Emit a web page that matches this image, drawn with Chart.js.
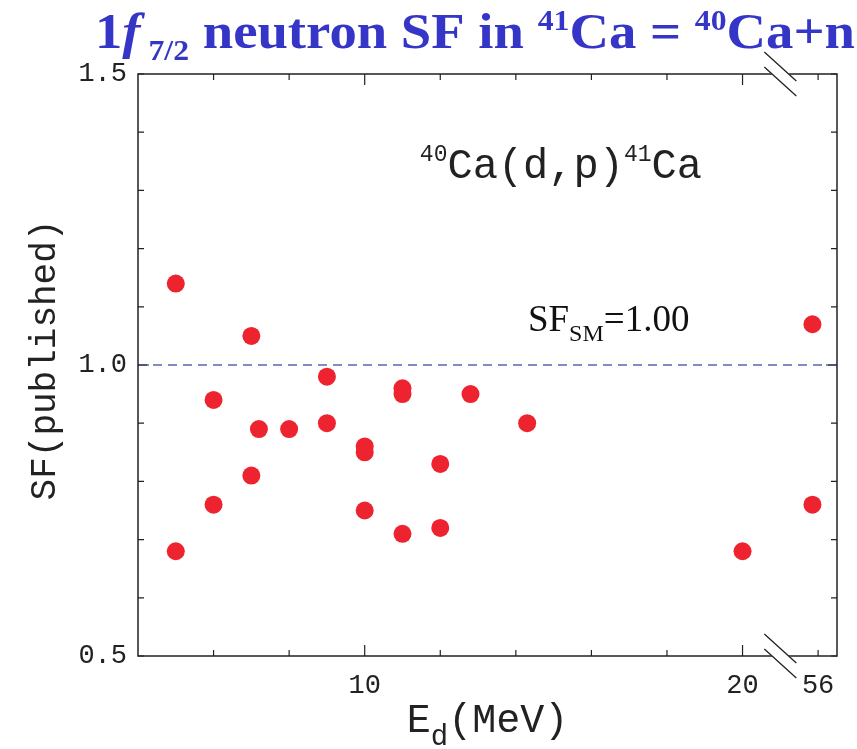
<!DOCTYPE html>
<html>
<head>
<meta charset="utf-8">
<title>1f7/2 neutron SF in 41Ca</title>
<script src="https://cdn.jsdelivr.net/npm/chart.js@4.4.0/dist/chart.umd.min.js"></script>
<style>
  html, body { margin: 0; padding: 0; background: #fff; }
  #wrap { width: 857px; height: 749px; position: relative; }
</style>
</head>
<body>
<div id="wrap"><canvas id="sfChart"></canvas></div>
<script>
// deuteron energies (MeV) and the published spectroscopic factors
const energies = [5, 5, 6, 6, 7, 7, 7.2, 8, 9, 9, 10, 10, 10, 11, 11, 11, 12, 12, 12.8, 14.3, 20, 56, 56]
const sfValues = [1.14, 0.68, 0.94, 0.76, 1.05, 0.81, 0.89, 0.89, 0.98, 0.90, 0.86, 0.85, 0.75, 0.96, 0.95, 0.71, 0.83, 0.72, 0.95, 0.90, 0.68, 1.07, 0.76]

// shell model reference value
const sfShellModel = 1.00

// axis ticks (x axis is broken between 20 and 56)
const xTickValues = [6, 8, 10, 12, 14, 16, 18, 20, 22]
const xTickLabels = ['', '', '10', '', '', '', '', '20', '56']
const yTickValues = [0.5, 0.6, 0.7, 0.8, 0.9, 1.0, 1.1, 1.2, 1.3, 1.4, 1.5]
const yTickLabels = ['0.5', '', '', '', '', '1.0', '', '', '', '', '1.5']

const X_MIN = 4
const X_MAX = 22.5
const Y_MIN = 0.5
const Y_MAX = 1.5

// the 56 MeV point sits just after the axis break
const brokenX = e => e > 30 ? 21.85 + (e - 56) : e

const points = energies.map((e, i) => ({ x: brokenX(e), y: sfValues[i] }))

const MONO = '"Liberation Mono", "DejaVu Sans Mono", monospace'
const SERIF = '"Liberation Serif", "Times New Roman", serif'

const drawRich = (ctx, x, y, parts) => {
    let total = 0
    parts.forEach(p => {
        ctx.font = p.font
        p.w = ctx.measureText(p.text).width
        total += p.w
    })
    let cx = x
    parts.forEach(p => {
        ctx.font = p.font
        ctx.fillText(p.text, cx, y + (p.dy || 0))
        cx += p.w
    })
    return total
}

const frameAndText = {
    id: 'frameAndText',
    afterDatasetsDraw(chart) {
        const ctx = chart.ctx
        const { left, right, top, bottom } = chart.chartArea
        const xs = chart.scales.x
        const ys = chart.scales.y
        ctx.save()

        // frame
        ctx.strokeStyle = '#222'
        ctx.lineWidth = 1.5
        ctx.strokeRect(left, top, right - left, bottom - top)

        // inward ticks on all four sides
        ctx.lineWidth = 1.2
        ctx.beginPath()
        xTickValues.forEach(v => {
            const px = xs.getPixelForValue(v)
            const len = (v === 10 || v === 20) ? 11 : 6
            ctx.moveTo(px, bottom); ctx.lineTo(px, bottom - len)
            ctx.moveTo(px, top); ctx.lineTo(px, top + len)
        })
        yTickValues.forEach(v => {
            const py = ys.getPixelForValue(v)
            const len = Math.abs(v - 1.0) < 1e-6 ? 11 : 6
            ctx.moveTo(left, py); ctx.lineTo(left + len, py)
            ctx.moveTo(right, py); ctx.lineTo(right - len, py)
        })
        ctx.stroke()

        // axis break marks
        const bx = xs.getPixelForValue(21.0)
        ;[top, bottom].forEach(cy => {
            ctx.strokeStyle = '#fff'
            ctx.lineWidth = 12
            ctx.beginPath()
            ctx.moveTo(bx - 8, cy - 7.5); ctx.lineTo(bx + 8, cy + 7.5)
            ctx.stroke()
            ctx.strokeStyle = '#222'
            ctx.lineWidth = 1.3
            ctx.beginPath()
            ;[-7.5, 7.5].forEach(o => {
                ctx.moveTo(bx - 16, cy - 14.5 + o)
                ctx.lineTo(bx + 16, cy + 14.5 + o)
            })
            ctx.stroke()
        })

        // title
        ctx.fillStyle = '#3535c8'
        ctx.textBaseline = 'alphabetic'
        ctx.textAlign = 'left'
        const big = `bold 50px ${SERIF}`
        const small = `bold 29px ${SERIF}`
        const titleParts = [
            { text: '1', font: big },
            { text: 'f', font: `italic bold 50px ${SERIF}` },
            { text: ' 7/2', font: small, dy: 12 },
            { text: ' neutron SF in ', font: big },
            { text: '41', font: small, dy: -18 },
            { text: 'Ca = ', font: big },
            { text: '40', font: small, dy: -18 },
            { text: 'Ca+n', font: big },
        ]
        let w = 0
        titleParts.forEach(p => { ctx.font = p.font; w += ctx.measureText(p.text).width })
        ctx.save()
        ctx.translate(95, 48)
        ctx.scale(760 / w, 1)
        drawRich(ctx, 0, 0, titleParts)
        ctx.restore()

        // reaction label
        ctx.fillStyle = '#222'
        drawRich(ctx, xs.getPixelForValue(11.46), ys.getPixelForValue(1.322), [
            { text: '40', font: `23px ${MONO}`, dy: -17 },
            { text: 'Ca(d,p)', font: `42px ${MONO}` },
            { text: '41', font: `23px ${MONO}`, dy: -17 },
            { text: 'Ca', font: `42px ${MONO}` },
        ])

        // shell model label
        ctx.fillStyle = '#111'
        drawRich(ctx, xs.getPixelForValue(14.32), ys.getPixelForValue(1.058), [
            { text: 'SF', font: `37px ${SERIF}` },
            { text: 'SM', font: `24px ${SERIF}`, dy: 10 },
            { text: '=1.00', font: `37px ${SERIF}` },
        ])

        // x axis title
        ctx.fillStyle = '#222'
        const xtParts = [
            { text: 'E', font: `40px ${MONO}` },
            { text: 'd', font: `29px ${MONO}`, dy: 13 },
            { text: '(MeV)', font: `40px ${MONO}` },
        ]
        let xtw = 0
        xtParts.forEach(p => { ctx.font = p.font; xtw += ctx.measureText(p.text).width })
        drawRich(ctx, (left + right) / 2 - xtw / 2, 732, xtParts)

        // y axis title
        ctx.save()
        ctx.translate(55, (top + bottom) / 2 - 5)
        ctx.rotate(-Math.PI / 2)
        ctx.textAlign = 'center'
        ctx.font = `36px ${MONO}`
        ctx.fillText('SF(published)', 0, 0)
        ctx.restore()

        ctx.restore()
    }
}

const ctx = document.querySelector('#sfChart').getContext('2d')

const sfChart = new Chart(ctx, {
    type: 'scatter',
    data: {
        datasets: [
            {
                label: 'SF',
                data: points,
                pointStyle: 'circle',
                pointRadius: 9,
                pointHoverRadius: 9,
                backgroundColor: '#ee2330',
                borderWidth: 0,
            },
            {
                type: 'line',
                label: 'SF_SM',
                data: [{ x: X_MIN, y: sfShellModel }, { x: X_MAX, y: sfShellModel }],
                borderColor: '#5a66b4',
                borderWidth: 1.5,
                borderDash: [9, 6],
                pointRadius: 0,
                fill: false,
            },
        ]
    },
    options: {
        responsive: true,
        maintainAspectRatio: false,
        animation: false,
        layout: { padding: { top: 74, right: 20, left: 0, bottom: 0 } },
        plugins: {
            legend: { display: false },
            tooltip: { enabled: false },
            title: { display: false },
        },
        scales: {
            x: {
                type: 'linear',
                min: X_MIN,
                max: X_MAX,
                afterFit: s => { s.height = 93 },
                afterBuildTicks: s => { s.ticks = xTickValues.map(v => ({ value: v })) },
                grid: { display: false, drawTicks: false },
                border: { display: false },
                ticks: {
                    autoSkip: false,
                    maxRotation: 0,
                    padding: 14,
                    color: '#222',
                    font: { family: MONO, size: 27 },
                    callback: (v) => xTickLabels[xTickValues.indexOf(v)] || '',
                },
            },
            y: {
                min: Y_MIN,
                max: Y_MAX,
                afterFit: s => { s.width = 138 },
                afterBuildTicks: s => { s.ticks = yTickValues.map(v => ({ value: v })) },
                grid: { display: false, drawTicks: false },
                border: { display: false },
                ticks: {
                    autoSkip: false,
                    padding: 11,
                    color: '#222',
                    font: { family: MONO, size: 27 },
                    callback: (v) => {
                        const i = yTickValues.findIndex(t => Math.abs(t - v) < 1e-6)
                        return i >= 0 ? yTickLabels[i] : ''
                    },
                },
            },
        },
    },
    plugins: [frameAndText],
});
</script>
</body>
</html>
